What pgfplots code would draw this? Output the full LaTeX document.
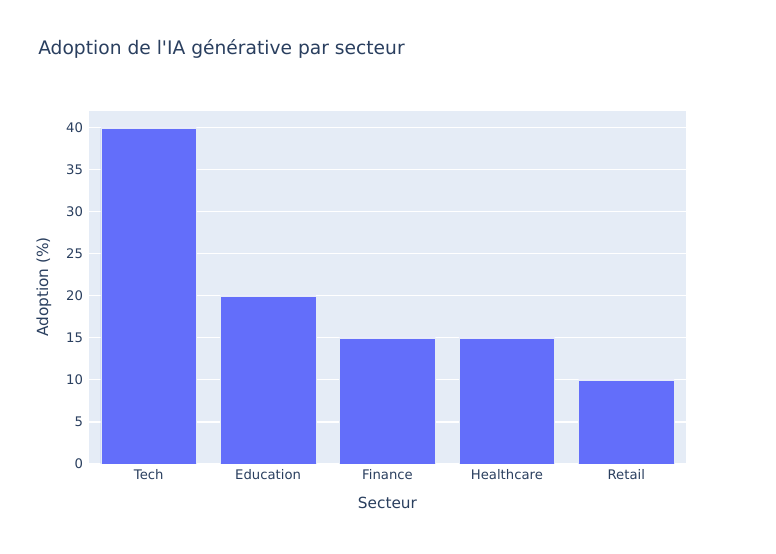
\documentclass[border=0pt]{standalone}
\usepackage{fontspec}
\setmainfont{DejaVu Sans}
\newfontfamily\djv{DejaVu Sans}
\usepackage{pgfplots}
\pgfplotsset{compat=1.18}
\definecolor{plotbg}{HTML}{E5ECF6}
\definecolor{barblue}{HTML}{636EFA}
\definecolor{txt}{HTML}{2A3F5F}
\begin{document}
\begin{tikzpicture}
\path[use as bounding box, fill=white] (0,0) rectangle (582pt,415.5pt);
\begin{axis}[
  at={(66.75pt,67.5pt)}, anchor=south west,
  scale only axis, width=447.75pt, height=264.75pt,
  axis background/.style={fill=plotbg},
  axis line style={draw=none},
  tick style={draw=none},
  ymin=0, ymax=42,
  xmin=-0.5, xmax=4.5,
  ytick={0,5,...,40},
  xtick=data,
  xticklabels={Tech,Education,Finance,Healthcare,Retail},
  ymajorgrids, grid style={white, line width=0.8pt},
  ticklabel style={font=\djv\fontsize{9.9}{12}\selectfont, text=txt},
  /pgf/number format/assume math mode=true,
  yticklabel style={xshift=-1pt},
  xticklabel style={yshift=-0.5pt},
]
\addplot[ybar, bar width=0.8, fill=barblue, draw=plotbg, line width=0.4pt] coordinates {
  (0,40) (1,20) (2,15) (3,15) (4,10)
};
\end{axis}
\node[anchor=west, inner sep=0pt, text=txt, font=\djv\fontsize{14}{17}\selectfont] at (28.5pt,379pt) {Adoption de l'IA générative par secteur};
\node[text=txt, font=\djv\fontsize{11.5}{14}\selectfont] at (290.6pt,38.25pt) {Secteur};
\node[text=txt, font=\djv\fontsize{11.5}{14}\selectfont, rotate=90] at (33pt,200.25pt) {Adoption (\%)};
\end{tikzpicture}
\end{document}
